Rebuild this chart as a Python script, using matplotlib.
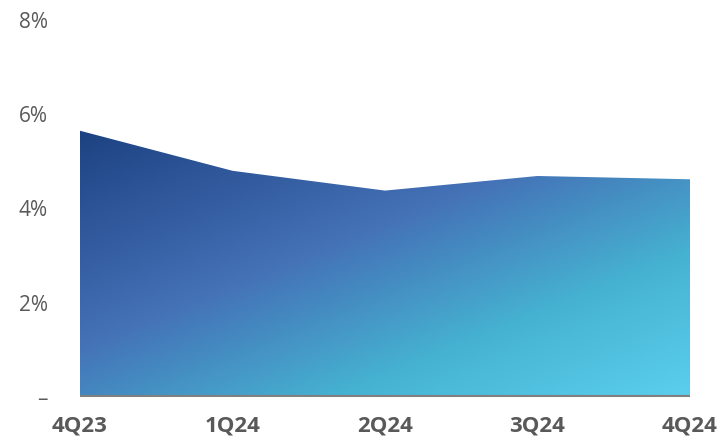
import numpy as np
import matplotlib.pyplot as plt
from matplotlib.colors import LinearSegmentedColormap
from matplotlib.patches import Polygon

quarters = ["4Q23", "1Q24", "2Q24", "3Q24", "4Q24"]
rates = [5.65, 4.80, 4.38, 4.69, 4.62]
yticks = [0, 2, 4, 6, 8]
ylabels = ["–", "2%", "4%", "6%", "8%"]

plt.rcParams['font.family'] = ['Open Sans', 'DejaVu Sans']

fig = plt.figure(figsize=(7.2, 4.38), dpi=100)
ax = fig.add_axes([80/720, 41/438, 610/720, 377/438])

x = np.arange(len(quarters))
ax.set_xlim(0, len(quarters) - 1)
ax.set_ylim(0, 8)

# diagonal gradient, dark navy top-left -> light cyan bottom-right
cmap = LinearSegmentedColormap.from_list(
    "grad", [(0.0, "#1d4282"), (0.41, "#4470b6"), (0.72, "#46b2d1"), (1.0, "#5bcfee")])
nx, ny = 400, 300
gx = np.linspace(0, 4, nx)
gy = np.linspace(8, 0, ny)
GX, GY = np.meshgrid(gx, gy)
px = GX * 610 / 4
py = (8 - GY) * 377 / 8
t = px * 123 + py * 305
t0 = (8 - rates[0]) * 377 / 8 * 305
t1 = 610 * 123 + 377 * 305
t = np.clip((t - t0) / (t1 - t0), 0, 1)
im = ax.imshow(t, cmap=cmap, extent=(0, 4, 0, 8), aspect="auto", origin="upper", zorder=1)

verts = [(0, 0)] + list(zip(x, rates)) + [(x[-1], 0)]
clip = Polygon(verts, closed=True, transform=ax.transData, facecolor="none", edgecolor="none")
ax.add_patch(clip)
im.set_clip_path(clip)

ax.axhline(0, color="#808080", lw=3, zorder=3)

ax.set_yticks(yticks)
ax.set_yticklabels(ylabels)
ax.set_xticks(x)
ax.set_xticklabels(quarters, fontweight="bold")
ax.tick_params(axis="y", length=0, pad=23, labelsize=15, labelcolor="#595959")
ax.tick_params(axis="x", length=0, pad=13, labelsize=16, labelcolor="#595959")
for s in ax.spines.values():
    s.set_visible(False)

fig.savefig("out.png", dpi=100)
